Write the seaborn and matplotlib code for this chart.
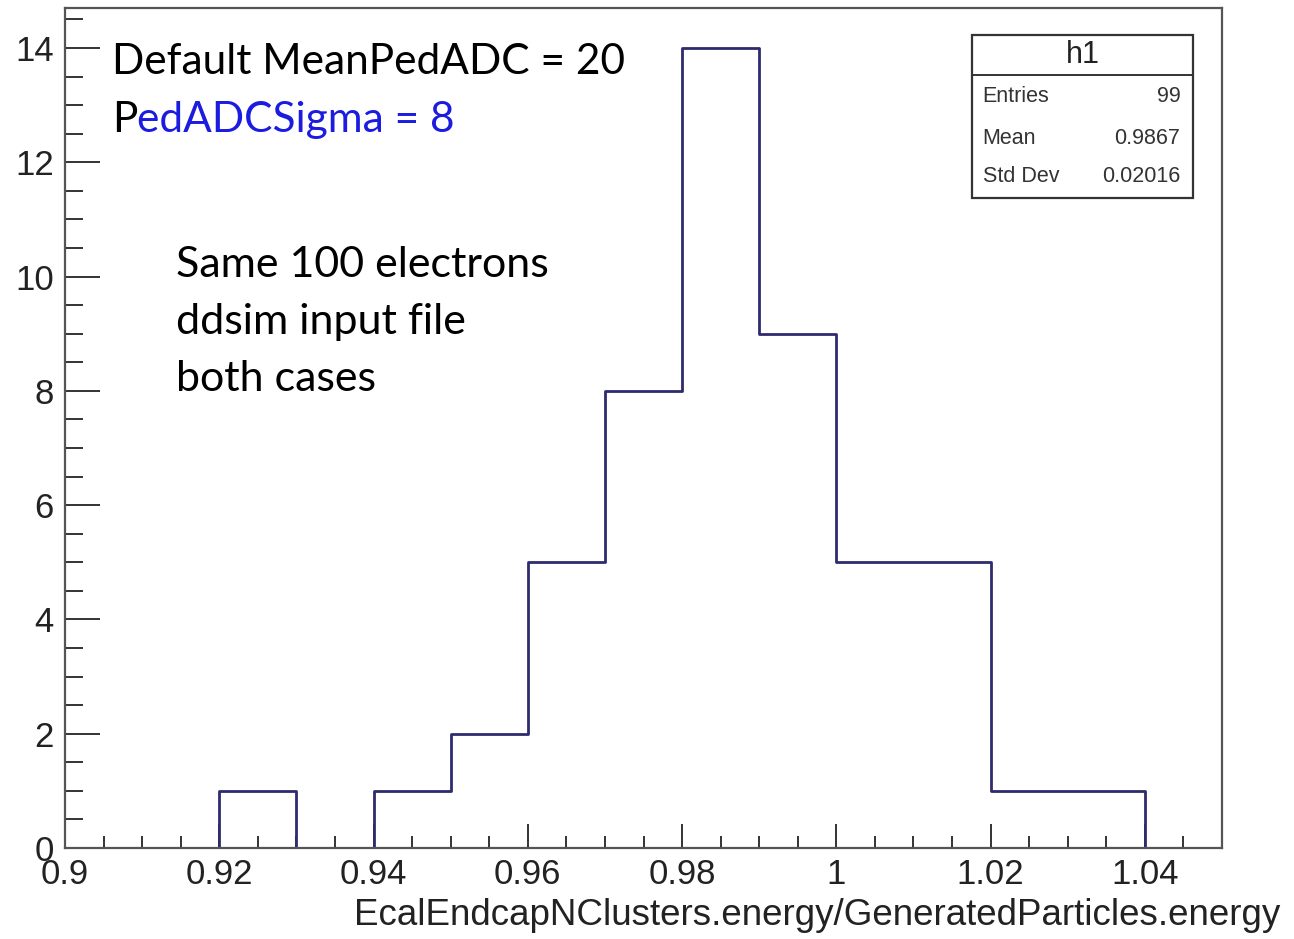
import numpy as np
import matplotlib
matplotlib.use("Agg")
import matplotlib.pyplot as plt
import matplotlib.patches as mpatches
import seaborn as sns

# histogram h1: bin edges and counts
bin_edges = [0.90, 0.91, 0.92, 0.93, 0.94, 0.95, 0.96, 0.97, 0.98, 0.99,
             1.00, 1.01, 1.02, 1.03, 1.04, 1.05]
bin_counts = [0, 0, 1, 0, 1, 2, 5, 8, 14, 9, 5, 5, 1, 1, 0]
x_ticks = [0.9, 0.92, 0.94, 0.96, 0.98, 1.0, 1.02, 1.04]
x_tick_labels = ["0.9", "0.92", "0.94", "0.96", "0.98", "1", "1.02", "1.04"]
y_ticks = [0, 2, 4, 6, 8, 10, 12, 14]
stats_names = ["Entries", "Mean", "Std Dev"]
stats_values = ["99", "0.9867", "0.02016"]
notes = ["Same 100 electrons", "ddsim input file", "both cases"]

sns.set_theme(style="white")
plt.rcParams["font.family"] = ["Liberation Sans", "DejaVu Sans"]

fig = plt.figure(figsize=(12.94, 9.39), dpi=100)
ax = fig.add_axes([0.0502, 0.0969, 0.8942, 0.8946])

centers = (np.array(bin_edges[:-1]) + np.array(bin_edges[1:])) / 2
sns.histplot(x=centers, weights=bin_counts, bins=bin_edges, element="step",
             fill=False, color="#2e2b6e", linewidth=2.0, ax=ax)

ax.set_xlim(0.9, 1.05)
ax.set_ylim(0, 14.7)
ax.set_ylabel("")
ax.set_xticks(x_ticks)
ax.set_xticklabels(x_tick_labels)
ax.set_yticks(y_ticks)
ax.xaxis.set_minor_locator(matplotlib.ticker.MultipleLocator(0.005))
ax.yaxis.set_minor_locator(matplotlib.ticker.MultipleLocator(0.5))
ax.tick_params(which="both", bottom=True, left=True, top=False, right=False)
ax.tick_params(axis="x", which="major", direction="in", length=17, width=1.4,
               labelsize=25, pad=7, color="#333333", labelcolor="#222222")
ax.tick_params(axis="x", which="minor", direction="in", length=9, width=1.4,
               color="#333333")
ax.tick_params(axis="y", which="major", direction="in", length=25, width=1.4,
               labelsize=25, pad=8, color="#333333", labelcolor="#222222")
ax.tick_params(axis="y", which="minor", direction="in", length=13, width=1.4,
               color="#333333")
for s in ax.spines.values():
    s.set_color("#555555")
    s.set_linewidth(1.6)

ax.set_xlabel("EcalEndcapNClusters.energy/GeneratedParticles.energy",
              fontsize=26.5, color="#222222", loc="right")
ax.xaxis.set_label_coords((1280 - 65) / 1157, -0.08)
ax.xaxis.label.set_verticalalignment("center")

# slide annotations
txt_font = ["Lato", "DejaVu Sans"]
fs = 30.5
t1 = ax.text(0.0406, 0.936, "Default MeanPedADC = 20", transform=ax.transAxes,
             fontsize=fs, family=txt_font, va="center", ha="left", color="black")
tp = ax.text(0.0406, 0.867, "P", transform=ax.transAxes, fontsize=fs,
             family=txt_font, va="center", ha="left", color="black")
ax.annotate("edADCSigma = 8", xy=(1, 0), xycoords=tp, va="bottom", ha="left",
            fontsize=fs, family=txt_font, color="#1c1ce0")
for i, line in enumerate(notes):
    ax.text(0.0959, 0.694 - i * 0.068, line, transform=ax.transAxes,
            fontsize=31, family=txt_font, va="center", ha="left", color="black")

# stats box
bx0, bx1, by0, by1, bsep = 0.784, 0.975, 0.774, 0.968, 0.920
ax.add_patch(mpatches.Rectangle((bx0, by0), bx1 - bx0, by1 - by0,
                                transform=ax.transAxes, facecolor="white",
                                edgecolor="#333333", linewidth=1.6, zorder=5))
ax.plot([bx0, bx1], [bsep, bsep], transform=ax.transAxes, color="#333333",
        linewidth=1.4, zorder=6)
ax.text((bx0 + bx1) / 2, (bsep + by1) / 2, "h1", transform=ax.transAxes,
        fontsize=22, ha="center", va="center", color="#222222", zorder=7)
for i, (nm, val) in enumerate(zip(stats_names, stats_values)):
    yy = [0.895, 0.845, 0.799][i]
    ax.text(0.793, yy, nm, transform=ax.transAxes, fontsize=15.5,
            ha="left", va="center", color="#333333", zorder=7)
    ax.text(0.964, yy, val, transform=ax.transAxes, fontsize=15.5,
            ha="right", va="center", color="#333333", zorder=7)

fig.savefig("out.png", dpi=100)
